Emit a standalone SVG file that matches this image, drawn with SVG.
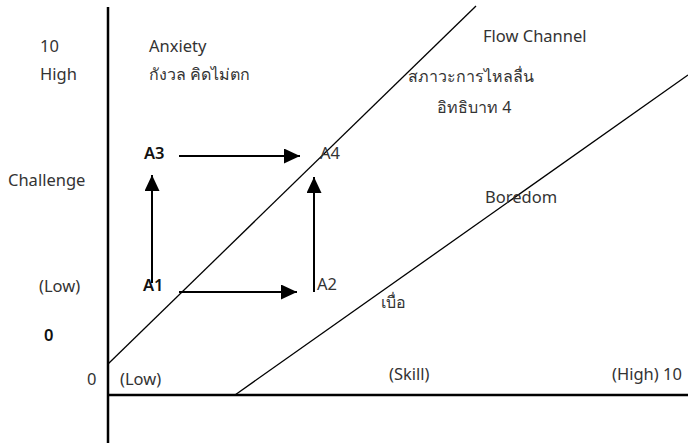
<svg xmlns="http://www.w3.org/2000/svg" width="688" height="443" viewBox="0 0 688 443">
<style>
text{font-family:"Noto Sans","DejaVu Sans",sans-serif;font-size:16.5px;fill:#333}
.th{font-size:16px}
.b{font-weight:600;fill:#111}
.ax{stroke:#000;stroke-width:2.5;fill:none}
.dg{stroke:#000;stroke-width:1.3;fill:none}
.ar{stroke:#000;stroke-width:2;fill:none;marker-end:url(#ah)}
</style>
<defs>
<marker id="ah" markerUnits="userSpaceOnUse" markerWidth="17" markerHeight="15" refX="16" refY="7.5" orient="auto">
<path d="M0,0 L16,7.5 L0,15 z" fill="#000"/>
</marker>
</defs>
<rect width="688" height="443" fill="#fff"/>
<g id="axes">
<line class="ax" x1="108" y1="7" x2="108" y2="443"/>
<line class="ax" x1="108" y1="395" x2="688" y2="395"/>
</g>
<g id="channel-lines">
<line class="dg" x1="108" y1="364" x2="476" y2="6"/>
<line class="dg" x1="235" y1="395" x2="688" y2="75"/>
</g>
<g id="axis-labels">
<text x="40" y="52">10</text>
<text x="40" y="80">High</text>
<text x="8" y="186">Challenge</text>
<text x="39" y="292">(Low)</text>
<text class="b" x="44" y="341">0</text>
<text x="87" y="385">0</text>
<text x="120" y="385">(Low)</text>
<text x="389" y="380">(Skill)</text>
<text x="612" y="380">(High) 10</text>
</g>
<g id="regions">
<text x="149" y="52">Anxiety</text>
<text class="th" x="149" y="80">กังวล คิดไม่ตก</text>
<text x="483" y="42">Flow Channel</text>
<text class="th" x="408" y="82">สภาวะการไหลลื่น</text>
<text class="th" x="437" y="113">อิทธิบาท  4</text>
<text x="485" y="203">Boredom</text>
<text class="th" x="381" y="308">เบื่อ</text>
</g>
<g id="A1"><text class="b" x="143" y="291">A1</text></g>
<g id="A2"><text x="317" y="290">A2</text></g>
<g id="A3"><text class="b" x="144" y="159">A3</text></g>
<g id="A4"><text x="320" y="159">A4</text></g>
<g id="connectors">
<line class="ar" x1="179" y1="156" x2="300" y2="156"/>
<line class="ar" x1="179" y1="292" x2="297" y2="292"/>
<line class="ar" x1="152" y1="283" x2="152" y2="175"/>
<line class="ar" x1="314" y1="292" x2="314" y2="177"/>
</g>
</svg>
